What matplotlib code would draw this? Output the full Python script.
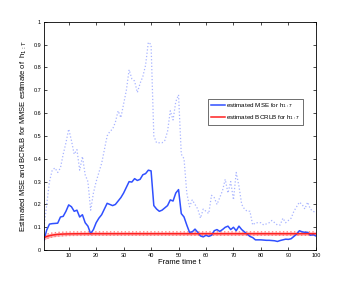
import numpy as np
import matplotlib
matplotlib.use("Agg")
import matplotlib.pyplot as plt

frames = np.arange(1, 101)

mse = [0.044, 0.088, 0.114, 0.116, 0.117, 0.118, 0.145, 0.148, 0.17, 0.198,
       0.19, 0.17, 0.175, 0.145, 0.155, 0.12, 0.105, 0.072, 0.09, 0.12,
       0.14, 0.155, 0.18, 0.205, 0.2, 0.195, 0.2, 0.215, 0.23, 0.25,
       0.275, 0.3, 0.298, 0.313, 0.305, 0.31, 0.33, 0.335, 0.35, 0.347,
       0.195, 0.18, 0.17, 0.175, 0.185, 0.195, 0.22, 0.215, 0.25, 0.265,
       0.16, 0.145, 0.11, 0.078, 0.08, 0.092, 0.078, 0.062, 0.058, 0.065,
       0.06, 0.065, 0.085, 0.09, 0.082, 0.09, 0.1, 0.105, 0.09, 0.1,
       0.085, 0.105, 0.09, 0.08, 0.07, 0.06, 0.055, 0.045, 0.045, 0.045,
       0.044, 0.043, 0.043, 0.042, 0.041, 0.038, 0.042, 0.045, 0.048, 0.047,
       0.05, 0.06, 0.07, 0.085, 0.08, 0.078, 0.078, 0.065, 0.068, 0.062]

mse_upper = [0.1, 0.2, 0.3, 0.35, 0.36, 0.34, 0.36, 0.42, 0.47, 0.53,
             0.48, 0.42, 0.44, 0.35, 0.41, 0.33, 0.3, 0.175, 0.25, 0.3,
             0.34, 0.38, 0.44, 0.5, 0.52, 0.53, 0.56, 0.61, 0.58, 0.64,
             0.7, 0.79, 0.75, 0.74, 0.69, 0.73, 0.76, 0.81, 0.91, 0.9,
             0.5, 0.47, 0.47, 0.47, 0.48, 0.52, 0.61, 0.57, 0.65, 0.68,
             0.42, 0.4, 0.25, 0.19, 0.22, 0.2, 0.18, 0.14, 0.18, 0.17,
             0.16, 0.24, 0.23, 0.2, 0.23, 0.26, 0.31, 0.25, 0.3, 0.22,
             0.34, 0.28, 0.2, 0.18, 0.17, 0.17, 0.11, 0.12, 0.12, 0.12,
             0.11, 0.115, 0.12, 0.13, 0.12, 0.11, 0.11, 0.14, 0.12, 0.13,
             0.14, 0.17, 0.19, 0.21, 0.2, 0.18, 0.21, 0.18, 0.17, 0.165]

bcrlb_start, bcrlb_end = 0.055, 0.072
bcrlb_lo_start, bcrlb_lo_end = 0.045, 0.065
bcrlb_hi_start, bcrlb_hi_end = 0.066, 0.080

# smooth rise of the bound toward its steady value
decay = np.exp(-(frames - 1) / 3.0)
bcrlb = bcrlb_end + (bcrlb_start - bcrlb_end) * decay
bcrlb_lo = bcrlb_lo_end + (bcrlb_lo_start - bcrlb_lo_end) * decay
bcrlb_hi = bcrlb_hi_end + (bcrlb_hi_start - bcrlb_hi_end) * decay

plt.rcParams["font.family"] = "Liberation Sans"

fig = plt.figure(figsize=(3.49, 2.82), dpi=100)
ax = fig.add_axes([0.126, 0.113, 0.779, 0.810])

ax.fill_between(frames, bcrlb_lo, bcrlb_hi, color="#ffb8b8", lw=0)
ax.plot(frames, bcrlb_lo, ":", color="#ff8080", lw=1.0)
ax.plot(frames, bcrlb_hi, ":", color="#ff8080", lw=1.0)
ax.plot(frames, mse_upper, ":", color="#a8b4ff", lw=0.9)
ax.plot(frames, mse, "-", color="#3050ff", lw=1.1, label="estimated MSE for h$_{1:T}$")
ax.plot(frames, bcrlb, "-", color="#ff2020", lw=1.1, label="estimated BCRLB for h$_{1:T}$")

ax.set_xlim(1, 100)
ax.set_ylim(0, 1)
ax.set_xticks(range(10, 101, 10))
ax.set_yticks(np.arange(0, 1.01, 0.1))
ax.set_yticklabels(["0"] + ["%g" % v for v in np.arange(0.1, 1.01, 0.1)])
ax.tick_params(direction="in", length=2, width=0.5, labelsize=4, top=True, right=True, pad=2)
for s in ax.spines.values():
    s.set_linewidth(0.6)

ax.set_xlabel("Frame time t", fontsize=5.5, labelpad=1)
ax.set_ylabel("Estimated MSE and BCRLB for MMSE estimate of  h$_{1:T}$", fontsize=5.5, labelpad=3)

leg = ax.legend(loc="upper left", bbox_to_anchor=(0.605, 0.66), fontsize=4.5,
                fancybox=False, edgecolor="black", handlelength=2.3, borderpad=0.35,
                labelspacing=0.5, handletextpad=0.2, borderaxespad=0)
leg.get_frame().set_linewidth(0.5)

plt.savefig("out.png", dpi=100)
